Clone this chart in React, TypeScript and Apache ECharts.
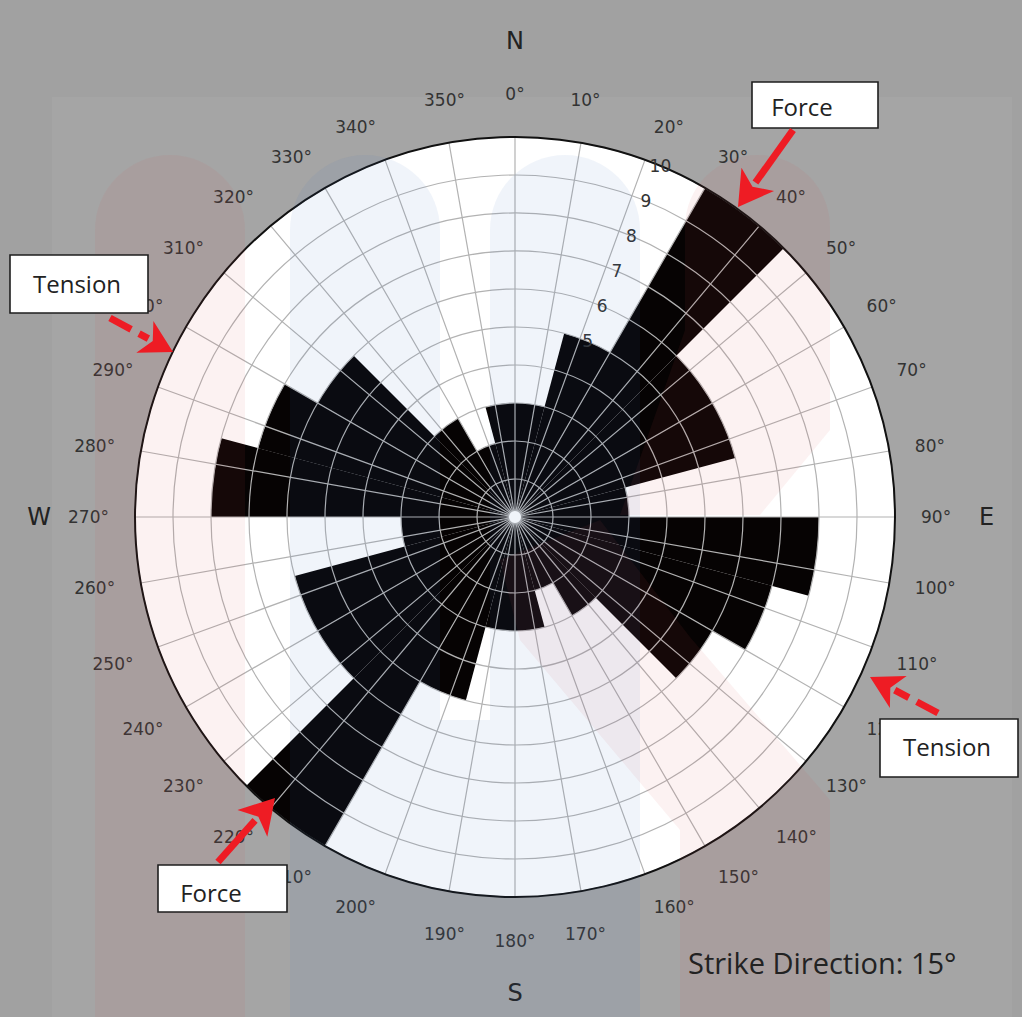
import React, { useEffect, useRef } from "react";
import * as echarts from "echarts";

// 15° strike bins, measured clockwise from north
const binStarts = [0, 15, 30, 45, 60, 75, 90, 105, 120, 135, 150, 165, 180, 195, 210, 225, 240, 255, 270, 285, 300, 315, 330, 345];
const binLabels = binStarts.map((s) => `${s}°–${s + 15}°`);
// counts per bin (bidirectional strikes, so each bin mirrors the one 180° away)
const strikeCounts = [3, 5, 10, 6, 6, 3, 8, 7, 6, 3, 2, 3, 3, 5, 10, 6, 6, 3, 8, 7, 6, 3, 2, 3];

const radiusMin = 0;
const radiusMax = 10;
const radiusStep = 1;
const radiusLabelFrom = 5;
const angleStep = 10;
const compassPoints: Record<number, string> = { 0: "N", 90: "E", 180: "S", 270: "W" };
const northLabels = [350, 0, 10];
const southLabels = [170, 180, 190];
const titleText = "Strike Direction: 15°";

// layout
const WIDTH = 1022;
const HEIGHT = 1017;
const CX = 515;
const CY = 517;
const R = 380;
const RED = "#ee1c24";
const LABEL_FONT = "DejaVu Sans";
const NOTE_FONT = "Open Sans";

type Pt = [number, number];

function arrow(tail: Pt, tip: Pt, dashed: boolean, headLen: number, headHalf: number) {
  const dx = tip[0] - tail[0];
  const dy = tip[1] - tail[1];
  const len = Math.hypot(dx, dy);
  const ux = dx / len;
  const uy = dy / len;
  const px = -uy;
  const py = ux;
  const bx = tip[0] - ux * headLen;
  const by = tip[1] - uy * headLen;
  return [
    {
      type: "line",
      z: 100,
      silent: true,
      shape: { x1: tail[0], y1: tail[1], x2: bx + ux * 4, y2: by + uy * 4 },
      style: { stroke: RED, lineWidth: 7, lineDash: dashed ? [24, 9] : undefined, lineCap: "butt" },
    },
    {
      type: "polygon",
      z: 100,
      silent: true,
      shape: {
        points: [
          [tip[0], tip[1]],
          [bx + px * headHalf, by + py * headHalf],
          [bx + ux * 9, by + uy * 9],
          [bx - px * headHalf, by - py * headHalf],
        ],
      },
      style: { fill: RED },
    },
  ];
}

function noteBox(x: number, y: number, w: number, h: number, text: string, tx: number, ty: number) {
  return [
    {
      type: "rect",
      z: 100,
      silent: true,
      shape: { x, y, width: w, height: h },
      style: { fill: "#ffffff", stroke: "#1e1e1e", lineWidth: 1.6 },
    },
    {
      type: "text",
      z: 101,
      silent: true,
      x: tx,
      y: ty,
      style: {
        text,
        fill: "#222222",
        fontSize: 24,
        fontFamily: NOTE_FONT,
        align: "center",
        verticalAlign: "middle",
      },
    },
  ];
}

// faint logo watermark laid over the whole figure
const PINK = "rgba(215, 80, 80, 0.075)";
const BLUE = "rgba(60, 120, 190, 0.08)";
function watermark() {
  const els: any[] = [];
  const rect = (x: number, y: number, w: number, h: number, r: number[], fill: string) =>
    els.push({ type: "rect", z: 50, silent: true, shape: { x, y, width: w, height: h, r }, style: { fill } });
  const poly = (points: number[][], fill: string) =>
    els.push({ type: "polygon", z: 50, silent: true, shape: { points }, style: { fill } });
  rect(95, 155, 150, 900, [75, 75, 0, 0], PINK);
  rect(685, 155, 145, 175, [72, 72, 0, 0], PINK);
  poly([[685, 330], [830, 330], [830, 430], [760, 515], [620, 515]], PINK);
  poly([[600, 520], [690, 637], [830, 800], [830, 1040], [680, 1040], [680, 830], [520, 640], [500, 560]], PINK);
  rect(290, 155, 150, 900, [75, 75, 0, 0], BLUE);
  rect(490, 155, 150, 900, [75, 75, 0, 0], BLUE);
  rect(440, 720, 50, 330, [0, 0, 0, 0], BLUE);
  return els;
}

export default function App() {
  const ref = useRef<HTMLDivElement>(null);

  useEffect(() => {
    if (!ref.current) return;
    const chart = echarts.init(ref.current, undefined, { renderer: "svg" });
    const polarBox = { center: [CX, CY], radius: R };
    const gridLine = { show: true, lineStyle: { color: "#b2b2b2", width: 1.2 } };

    const angleLabel = (v: number) => {
      if (v >= 360) return "";
      if (northLabels.includes(v)) return `{n|${v}°}`;
      if (southLabels.includes(v)) return `{s|${v}°}`;
      return `${v}°`;
    };
    const labelText = { fontSize: 17, fontFamily: LABEL_FONT, color: "#333333" };

    const option: any = {
      animation: false,
      backgroundColor: "transparent",
      textStyle: { fontFamily: LABEL_FONT },
      polar: [polarBox, polarBox, polarBox, polarBox],
      angleAxis: [
        {
          polarIndex: 0,
          type: "category",
          data: binLabels,
          startAngle: 90,
          clockwise: true,
          boundaryGap: true,
          z: 0,
          axisLine: { show: false },
          axisTick: { show: false },
          axisLabel: { show: false },
          splitLine: { show: false },
          splitArea: { show: true, areaStyle: { color: ["#ffffff"] } },
        },
        {
          polarIndex: 1,
          type: "value",
          min: 0,
          max: 360,
          interval: angleStep,
          startAngle: 90,
          clockwise: true,
          z: 6,
          axisLine: { show: true, lineStyle: { color: "#111111", width: 2 } },
          axisTick: { show: false },
          axisLabel: {
            show: true,
            margin: 26,
            ...labelText,
            formatter: angleLabel,
            rich: {
              n: { ...labelText, padding: [0, 0, 9, 0] },
              s: { ...labelText, padding: [9, 0, 0, 0] },
            },
          },
          splitLine: gridLine,
        },
        {
          polarIndex: 2,
          type: "value",
          min: 0,
          max: 360,
          startAngle: 67.5,
          clockwise: true,
          show: false,
        },
        {
          polarIndex: 3,
          type: "value",
          min: 0,
          max: 360,
          interval: 90,
          startAngle: 90,
          clockwise: true,
          z: 7,
          axisLine: { show: false },
          axisTick: { show: false },
          splitLine: { show: false },
          axisLabel: {
            show: true,
            margin: 84,
            fontSize: 24,
            fontFamily: LABEL_FONT,
            color: "#222222",
            formatter: (v: number) => compassPoints[v] ?? "",
          },
        },
      ],
      radiusAxis: [
        { polarIndex: 0, type: "value", min: radiusMin, max: radiusMax, show: false },
        {
          polarIndex: 1,
          type: "value",
          min: radiusMin,
          max: radiusMax,
          interval: radiusStep,
          z: 5,
          axisLine: { show: false },
          axisTick: { show: false },
          axisLabel: { show: false },
          splitLine: gridLine,
        },
        {
          polarIndex: 2,
          type: "value",
          min: radiusMin,
          max: radiusMax,
          interval: radiusStep,
          z: 7,
          axisLine: { show: false },
          axisTick: { show: false },
          splitLine: { show: false },
          axisLabel: {
            show: true,
            margin: 0,
            align: "center",
            verticalAlign: "middle",
            ...labelText,
            formatter: (v: number) => (v >= radiusLabelFrom ? String(v) : ""),
          },
        },
        { polarIndex: 3, type: "value", min: radiusMin, max: radiusMax, show: false },
      ],
      series: [
        {
          type: "bar",
          coordinateSystem: "polar",
          polarIndex: 0,
          data: strikeCounts,
          barCategoryGap: "0%",
          itemStyle: { color: "#060303" },
          z: 2,
        },
      ],
      graphic: [
        { type: "circle", z: 40, silent: true, shape: { cx: CX, cy: CY, r: 6 }, style: { fill: "#ffffff" } },
        ...watermark(),
        ...noteBox(752, 82, 126, 46, "Force", 802, 106),
        ...arrow([793, 130], [738, 207], false, 34, 20),
        ...noteBox(158, 865, 129, 47, "Force", 211, 892),
        ...arrow([218, 862], [275, 798], false, 34, 20),
        ...noteBox(10, 255, 138, 58, "Tension", 77, 283),
        ...arrow([110, 318], [173, 352], true, 32, 18),
        ...noteBox(880, 719, 138, 58, "Tension", 947, 746),
        ...arrow([938, 713], [870, 677], true, 32, 18),
        {
          type: "text",
          z: 101,
          silent: true,
          x: 688,
          y: 962,
          style: {
            text: titleText,
            fill: "#222222",
            fontSize: 29,
            fontFamily: NOTE_FONT,
            align: "left",
            verticalAlign: "middle",
          },
        },
      ],
    };

    chart.setOption(option);
    return () => chart.dispose();
  }, []);

  return (
    <div style={{ position: "fixed", left: 0, top: 0, width: WIDTH, height: HEIGHT, background: "#a1a1a1", overflow: "hidden" }}>
      <div style={{ position: "absolute", left: 52, top: 97, width: 960, height: 920, background: "#a5a5a5" }} />
      <div ref={ref} style={{ position: "absolute", left: 0, top: 0, width: WIDTH, height: HEIGHT }} />
    </div>
  );
}
